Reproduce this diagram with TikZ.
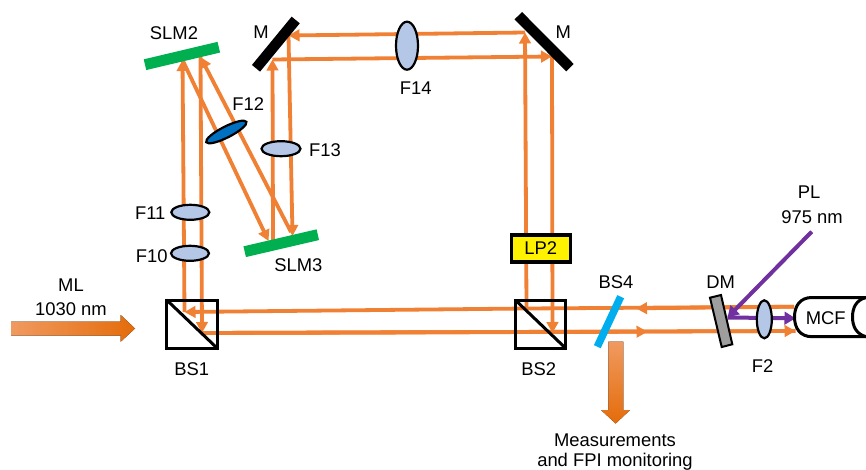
\documentclass[tikz,border=0pt]{standalone}
\usepackage{fontspec}
\setmainfont{Liberation Sans}
\usetikzlibrary{arrows.meta,calc,shapes.geometric}
\definecolor{beam}{HTML}{F08033}
\definecolor{pump}{HTML}{7030A0}
\definecolor{lens}{HTML}{B4C7E7}
\definecolor{slm}{HTML}{00B050}
\definecolor{bsblue}{HTML}{00AEEF}
\definecolor{fdark}{HTML}{0070C0}
\definecolor{shadeA}{HTML}{F09A60}
\definecolor{shadeB}{HTML}{E46C0A}
\tikzset{
  x=1pt,y=-1pt,
  every node/.style={font=\fontsize{18.4}{22}\selectfont,inner sep=0pt},
  ray/.style={draw=beam,line width=3.8pt},
  rayhead/.style={ray,-{Triangle[length=11pt,width=11.5pt,fill=beam]}},
  pumpray/.style={draw=pump,line width=4pt,-{Triangle[length=11pt,width=12.5pt,fill=pump]}},
  lensshape/.style={ellipse,draw=black,line width=2.2pt,fill=lens},
  cube/.style={draw=black,line width=3pt},
  mirror/.style={line width=10.5pt,draw=black},
  slmbar/.style={line width=11pt,draw=slm},
}
\begin{document}
\begin{tikzpicture}
\useasboundingbox (0,0) rectangle (866,470);
% beam coordinates
\coordinate (bsoneA) at (184.5,312);
\coordinate (bsoneB) at (202,333);
\coordinate (slmtwoA) at (182.5,60);
\coordinate (slmtwoB) at (200.5,57);
\coordinate (slmthreeA) at (268.5,241);
\coordinate (slmthreeB) at (273,240);
\coordinate (slmthreeC) at (292.5,236);
\coordinate (slmthreeD) at (291,232);
\coordinate (mlA) at (272.5,59.5);
\coordinate (mlB) at (288.5,35.5);
\coordinate (mrA) at (525,32.5);
\coordinate (mrB) at (552,56.5);
\coordinate (bstwoA) at (526.5,308.5);
\coordinate (bstwoB) at (552.5,333);
\coordinate (mcfA) at (794,306.7);
\coordinate (mcfB) at (795.5,331);
\coordinate (midA) at (636,308.3);
\coordinate (midB) at (647.5,331.7);
\coordinate (pumpStart) at (811.7,231.7);
\coordinate (pumpHit) at (727.5,317.5);
\coordinate (pumpEnd) at (795.5,318.3);
% beams
\draw[rayhead] (bsoneA) -- (slmtwoA);
\draw[rayhead] (slmtwoB) -- (bsoneB);
\draw[rayhead] (slmtwoA) -- (slmthreeA);
\draw[rayhead] (slmthreeD) -- (slmtwoB);
\draw[rayhead] (slmthreeB) -- (mlA);
\draw[rayhead] (mlB) -- (slmthreeC);
\draw[rayhead] (mrA) -- (mlB);
\draw[rayhead] (mlA) -- (mrB);
\draw[rayhead] (bstwoA) -- (mrA);
\draw[rayhead] (mrB) -- (bstwoB);
\draw[rayhead] (bstwoA) -- (bsoneA);
\draw[ray] (mcfA) -- (bstwoA);
\draw[rayhead] (mcfA) -- (midA);
\draw[ray] (bsoneB) -- (mcfB);
\draw[rayhead] (bsoneB) -- (midB);
\draw[rayhead] (bsoneB) -- (mcfB);
\draw[pumpray] (pumpHit) -- (pumpEnd);
\draw[pumpray] (pumpStart) -- (pumpHit);
% optics
\draw[slmbar] (145,64.7) -- (218.8,47.2);
\draw[slmbar] (244.7,251.7) -- (317.8,234.7);
\draw[mirror] (295.7,20) -- (256,68.3);
\draw[mirror] (518.3,15.7) -- (570,67.7);
\node[lensshape,minimum width=22pt,minimum height=48pt] (ftf) at (407,45.7) {};
\node[lensshape,minimum width=39pt,minimum height=15pt] (ftt) at (281,148.7) {};
\node[ellipse,draw=black,line width=2.2pt,fill=fdark,minimum width=45pt,minimum height=11pt,rotate=27] (ftw) at (226.3,132) {};
\node[lensshape,minimum width=38pt,minimum height=15pt] (fel) at (190.3,212.3) {};
\node[lensshape,minimum width=38pt,minimum height=15pt] (ften) at (190,253.3) {};
\node[lensshape,minimum width=15pt,minimum height=38pt] (ftwo) at (764.3,319.3) {};
\node[draw=black,line width=3.2pt,fill=yellow,minimum width=59pt,minimum height=27pt] (lp) at (540.7,248.5) {LP2};
% cubes
\draw[cube] (166.7,300) rectangle (217.3,348.3);
\draw[cube] (166.7,300) -- (217.3,348.3);
\draw[cube] (515.3,300) rectangle (565.7,348.3);
\draw[cube] (515.3,300) -- (565.7,348.3);
% BS4, DM
\draw[line width=7.5pt,draw=bsblue] (620.7,296.7) -- (597.3,346.7);
\draw[draw=black,line width=2pt,fill=black!38] (710,297.7) -- (721,295) -- (732.3,344.3) -- (721.7,347) -- cycle;
% MCF
\draw[line width=3pt,fill=white] (866,297.5) -- (812,297.5) .. controls (800,297.5) and (794.5,306) .. (794.5,317) .. controls (794.5,328) and (800,336.7) .. (812,336.7) -- (866,336.7);
\draw[line width=3pt] (866,297.5) .. controls (856,300) and (852.5,308) .. (852.5,317) .. controls (852.5,326) and (856,334) .. (866,336.7);
% big arrows
\fill[left color=shadeA,right color=shadeB] (11,321.7) -- (120.7,321.7) -- (120.7,315) -- (135,328.5) -- (120.7,341.7) -- (120.7,335.7) -- (11,335.7) -- cycle;
\fill[top color=shadeA,bottom color=shadeB] (608.3,341.7) -- (623.3,341.7) -- (623.3,410) -- (630,410) -- (615.7,423.5) -- (601,410) -- (608.3,410) -- cycle;
% labels
\node (tslmtwo) at (174,33) {SLM2};
\node (tslmthree) at (298.3,265) {SLM3};
\node (tftw) at (248.3,104) {F12};
\node (tml) at (261,31.7) {M};
\node (tmr) at (563.3,31.7) {M};
\node (tftf) at (415.7,87.7) {F14};
\node (tftt) at (325,150) {F13};
\node (tfel) at (150.3,213) {F11};
\node (tften) at (151.7,256) {F10};
\node (tmlA) at (71,285) {ML};
\node (tmlB) at (71,309) {1030 nm};
\node (tbsone) at (191.7,369.3) {BS1};
\node (tbstwo) at (538.7,369) {BS2};
\node (tbsf) at (616,281.7) {BS4};
\node (tmeasA) at (615,440) {Measurements};
\node (tmeasB) at (615,461.5) {and FPI monitoring};
\node (tdm) at (720.7,281.7) {DM};
\node (tftwo) at (762.7,365.7) {F2};
\node (tmcf) at (825.7,318) {MCF};
\node (tpl) at (809,192) {PL};
\node (tplB) at (812,217) {975 nm};
\end{tikzpicture}
\end{document}
